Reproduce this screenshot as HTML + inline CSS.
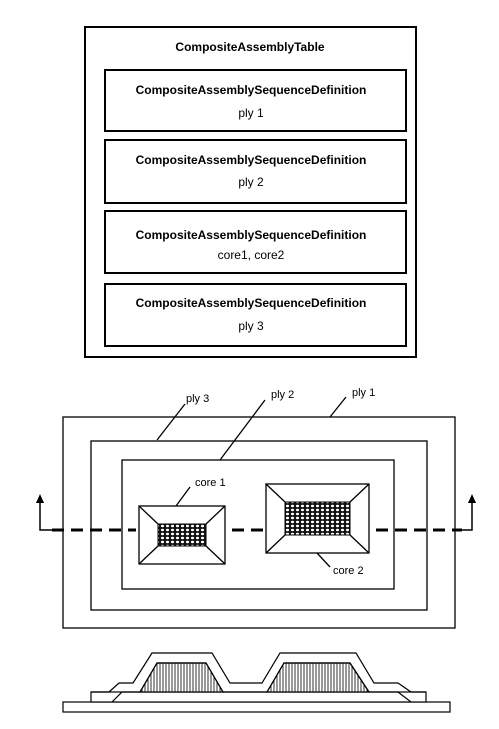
<!DOCTYPE html>
<html><head><style>
body{margin:0;background:#fff;width:499px;height:724px;overflow:hidden}
svg text{font-family:"Liberation Sans",sans-serif}
</style></head><body>
<svg width="499" height="724" viewBox="0 0 499 724">
<defs>
<pattern id="dots" width="5" height="4" patternUnits="userSpaceOnUse">
<rect width="5" height="4" fill="#111"/><ellipse cx="2.5" cy="2" rx="1.6" ry="1.2" fill="#fff"/>
</pattern>
<pattern id="vl" width="3" height="10" patternUnits="userSpaceOnUse">
<rect width="3" height="10" fill="#fff"/><line x1="1" y1="0" x2="1" y2="10" stroke="#000" stroke-width="0.8"/>
</pattern>
</defs>
<g fill="none" stroke="#000" stroke-width="2">
<rect x="85" y="27" width="331" height="330"/>
<rect x="105" y="70" width="301" height="61"/>
<rect x="105" y="140" width="301" height="63"/>
<rect x="105" y="211" width="301" height="62"/>
<rect x="105" y="284" width="301" height="62"/>
</g>
<g font-size="12" font-weight="bold" text-anchor="middle" fill="#000">
<text x="250" y="51">CompositeAssemblyTable</text>
<text x="251" y="94">CompositeAssemblySequenceDefinition</text>
<text x="251" y="117" font-weight="normal">ply 1</text>
<text x="251" y="164">CompositeAssemblySequenceDefinition</text>
<text x="251" y="186" font-weight="normal">ply 2</text>
<text x="251" y="239">CompositeAssemblySequenceDefinition</text>
<text x="251" y="259" font-weight="normal">core1, core2</text>
<text x="251" y="307">CompositeAssemblySequenceDefinition</text>
<text x="251" y="330" font-weight="normal">ply 3</text>
</g>
<g fill="none" stroke="#000" stroke-width="1.3">
<rect x="63" y="417" width="392" height="211"/>
<rect x="91" y="441" width="336" height="169"/>
<rect x="122" y="460" width="272" height="129"/>
<rect x="139" y="506" width="86" height="58" fill="#fff"/>
<rect x="266" y="484" width="103" height="69" fill="#fff"/>
<path d="M139 506L158 524M225 506L206 524M139 564L158 546M225 564L206 546"/>
<path d="M266 484L285 502M369 484L350 502M266 553L285 535M369 553L350 535"/>
<path d="M185 404L157 440M265 400L220 460M346 397L330 417M190 487L176 506M330 567L317 553"/>
</g>
<rect x="158" y="524" width="48" height="22" fill="url(#dots)" stroke="#000"/>
<rect x="285" y="502" width="65" height="33" fill="url(#dots)" stroke="#000"/>
<g stroke="#000" stroke-width="3" stroke-dasharray="12,7">
<line x1="52" y1="530" x2="136" y2="530"/>
<line x1="232" y1="530" x2="264" y2="530"/>
<line x1="376" y1="530" x2="462" y2="530"/>
</g>
<g stroke="#000" stroke-width="1.5" fill="none"><path d="M40 500V530H52M472 500V530H462"/></g>
<path d="M36 503L40 494L44 503Z M468 503L472 494L476 503Z" fill="#000"/>
<g font-size="11" fill="#000">
<text x="186" y="402">ply 3</text><text x="271" y="398">ply 2</text><text x="352" y="396">ply 1</text>
<text x="195" y="486">core 1</text><text x="333" y="574">core 2</text>
</g>
<g stroke="#000" stroke-width="1.2">
<rect x="63" y="702" width="387" height="10" fill="#fff"/>
<rect x="91" y="692" width="335" height="10" fill="#fff"/>
<path d="M140 692L157 663H206L223 692Z M267 692L284 663H350L369 692Z" fill="url(#vl)"/>
<path fill="none" d="M112 702L122 692H140L157 663H206L223 692H267L284 663H350L369 692H398L411 702"/>
<path fill="none" d="M91 692H109L119 683H133L152 653H212L230 683H262L280 653H356L374 683H398L411 692H426"/>
</g>
</svg>
</body></html>
